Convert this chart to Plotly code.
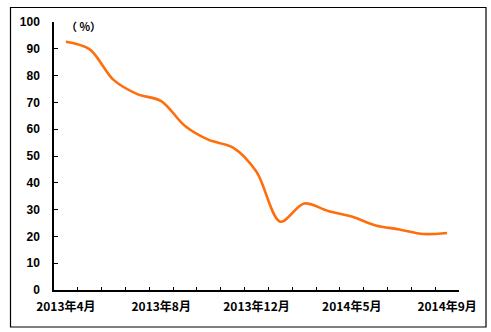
import plotly.graph_objects as go

# Monthly categories (Jan and Feb 2014 reported together)
months = ["2013年4月", "2013年5月", "2013年6月", "2013年7月", "2013年8月",
          "2013年9月", "2013年10月", "2013年11月", "2013年12月",
          "2014年1-2月", "2014年3月", "2014年4月", "2014年5月",
          "2014年6月", "2014年7月", "2014年8月", "2014年9月"]
values = [92.6, 89.8, 78.4, 73.1, 70.5, 61.2, 56.0, 53.2, 44.1,
          25.5, 32.3, 29.5, 27.4, 24.1, 22.6, 20.9, 21.3]
shown_labels = ["2013年4月", "2013年8月", "2013年12月", "2014年5月", "2014年9月"]
y_ticks = [0, 10, 20, 30, 40, 50, 60, 70, 80, 90, 100]

ticktext = [m if m in shown_labels else "" for m in months]

W, H = 491, 332
L, R, T, B = 54, 32, 22, 42
pw, ph = W - L - R, H - T - B

def px_x(p):
    return (p - L) / pw

def px_y(p):
    return (H - B - p) / ph

fig = go.Figure()
fig.add_trace(go.Scatter(
    x=months, y=values, mode="lines",
    line=dict(color="#FF6E0C", width=2.6, shape="spline", smoothing=0.9),
    hoverinfo="skip", showlegend=False,
))

fig.update_layout(
    width=W, height=H,
    margin=dict(l=L, r=R, t=T, b=B),
    paper_bgcolor="white", plot_bgcolor="white",
    font=dict(family="Liberation Sans, Noto Sans CJK SC, sans-serif", size=11, color="black"),
    xaxis=dict(
        type="category", categoryorder="array", categoryarray=months,
        tickmode="array", tickvals=months, ticktext=ticktext, tickangle=0,
        tickson="boundaries", ticks="inside", ticklen=3, tickwidth=1,
        tickcolor="black", showline=True, linecolor="black", linewidth=1.5,
        showgrid=False, zeroline=False, range=[-0.5, len(months) - 0.5],
        tickfont=dict(size=12, family="Noto Sans CJK SC", weight="bold"),
        ticklabelstandoff=5, automargin=False,
    ),
    yaxis=dict(
        range=[0, 100], tickmode="array", tickvals=y_ticks,
        ticks="inside", ticklen=4, tickwidth=1, tickcolor="black",
        showline=True, linecolor="black", linewidth=1.5,
        showgrid=False, zeroline=False,
        tickfont=dict(size=12, family="Liberation Sans", weight="bold"),
        ticklabelstandoff=10, automargin=False,
    ),
    shapes=[dict(
        type="rect", xref="paper", yref="paper",
        x0=px_x(10.5), x1=px_x(486), y0=px_y(327), y1=px_y(7.5),
        line=dict(color="black", width=1.2), layer="below",
    )],
    annotations=[dict(
        text="（ %）", xref="paper", yref="paper",
        x=px_x(64), y=px_y(26), xanchor="left", yanchor="middle",
        showarrow=False,
        font=dict(size=11, family="Noto Sans CJK SC", weight="bold"),
    )],
)

fig.write_html("out.html")
